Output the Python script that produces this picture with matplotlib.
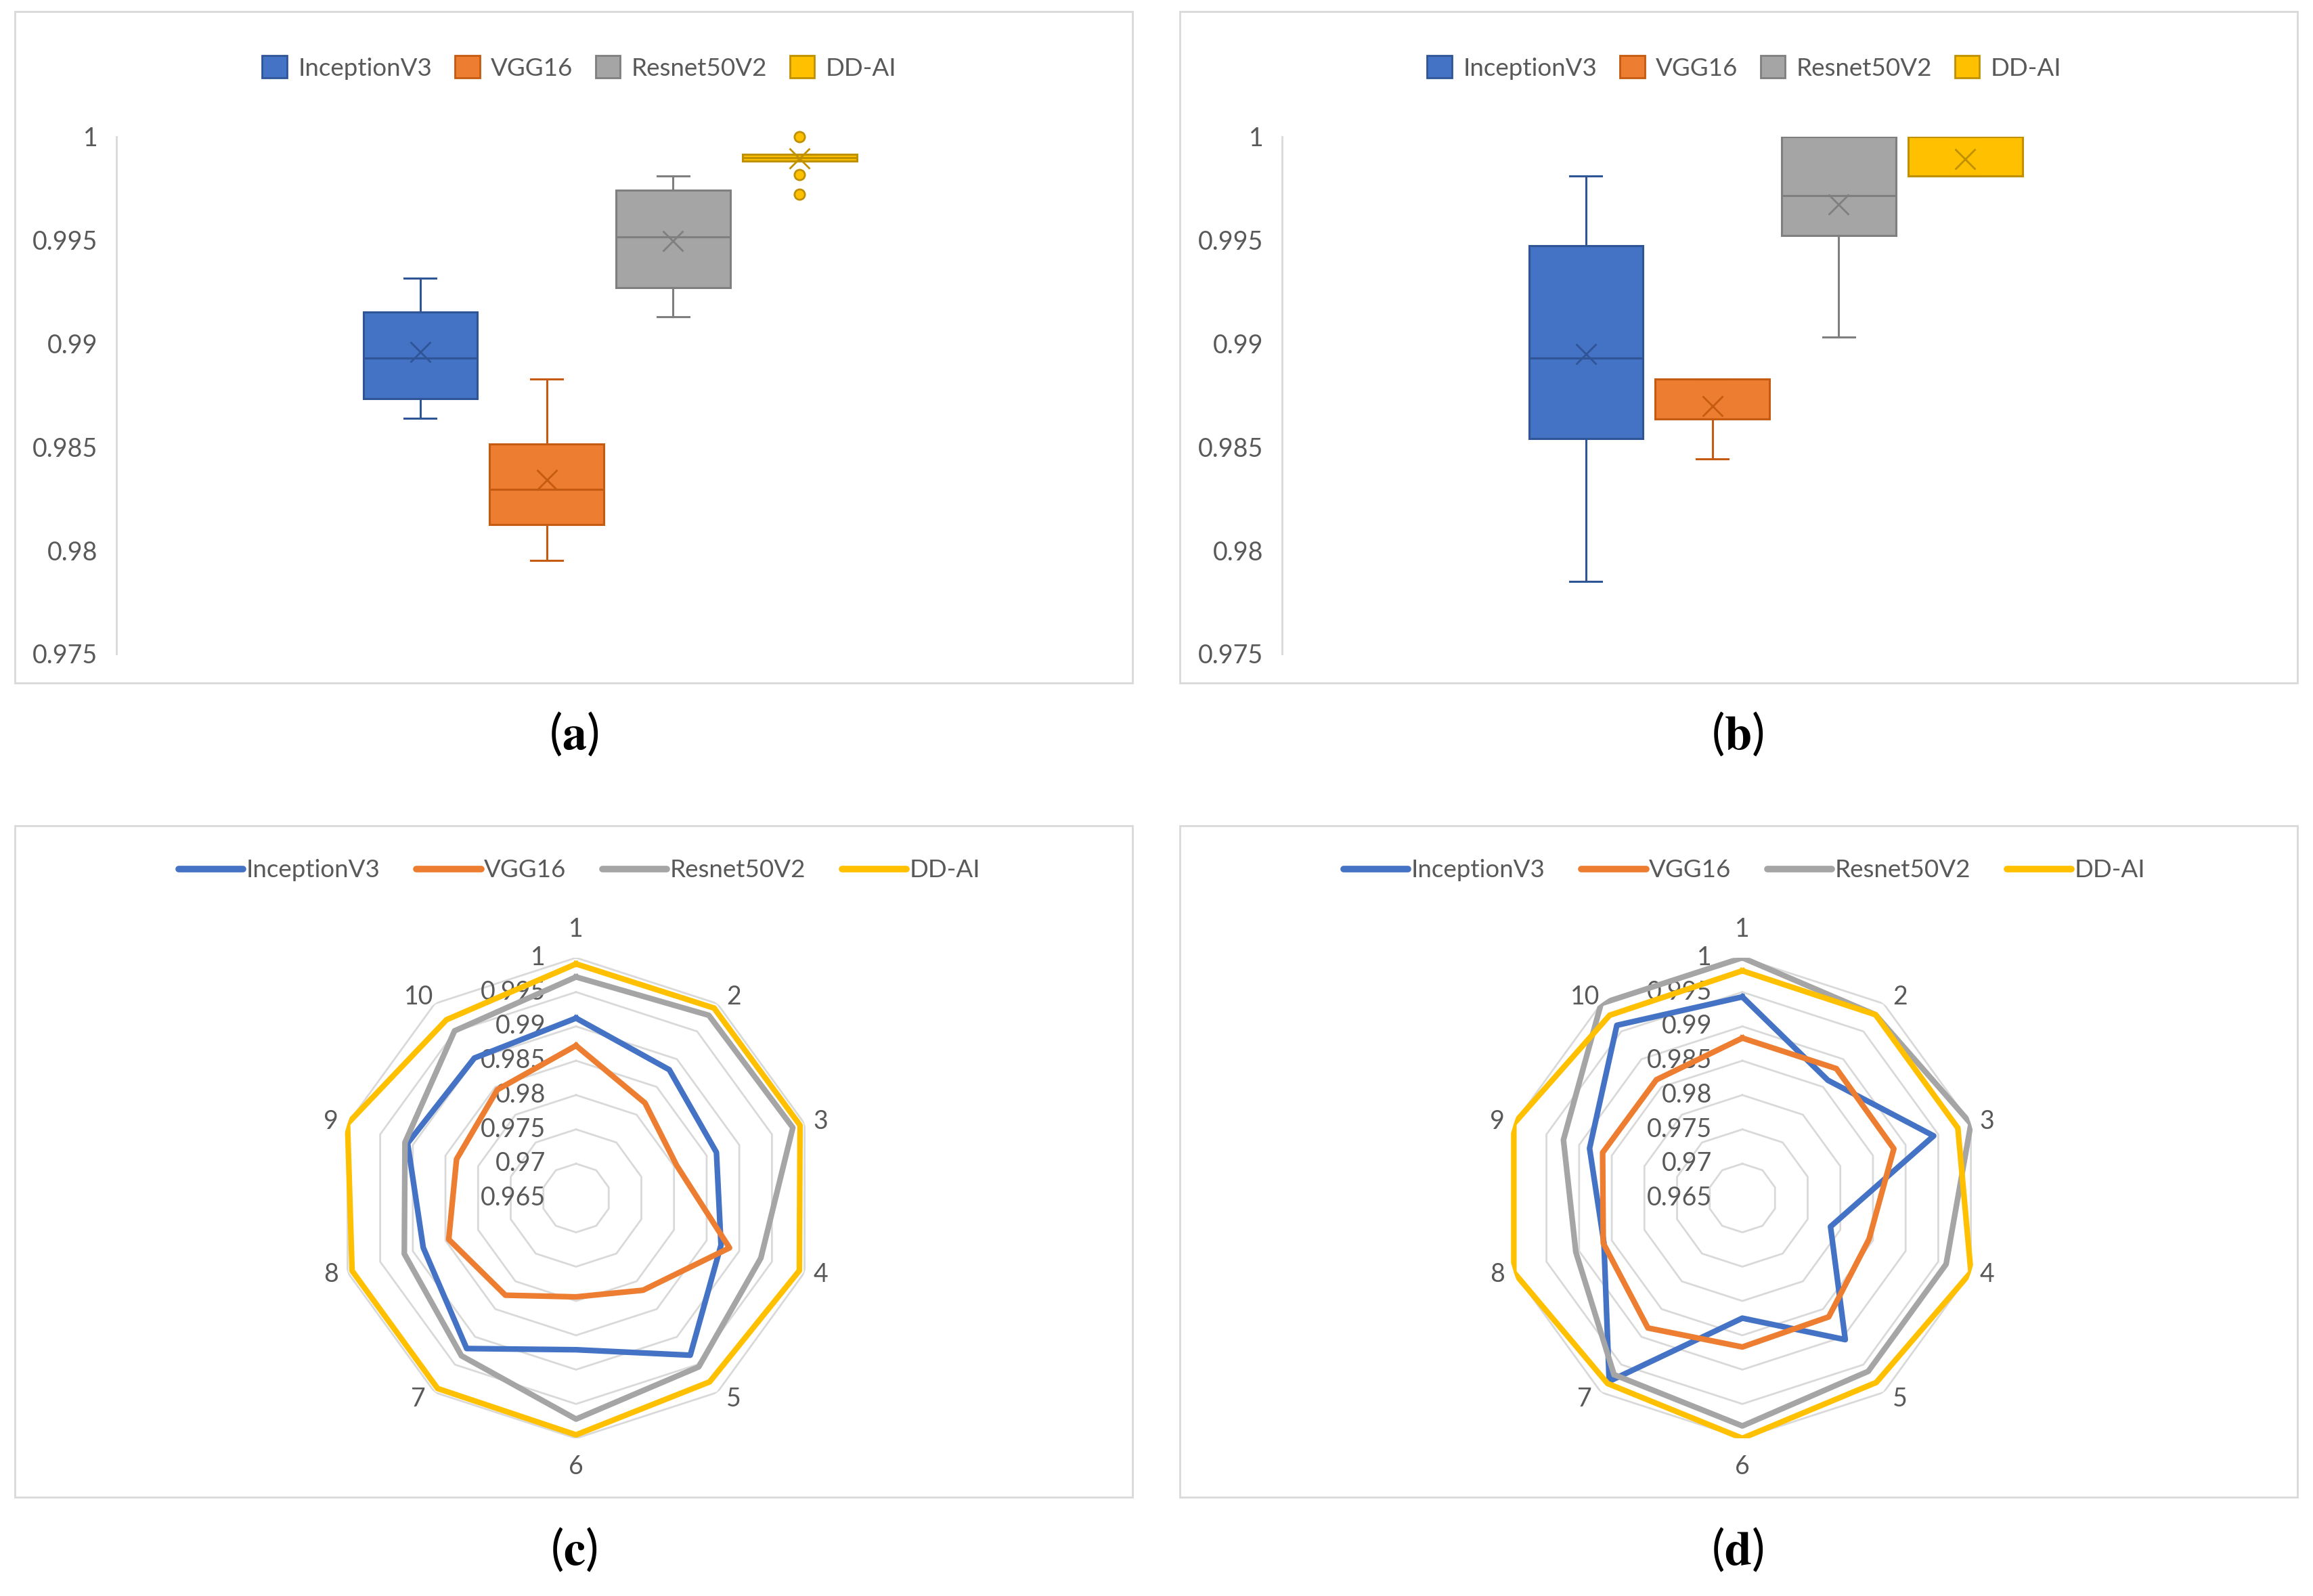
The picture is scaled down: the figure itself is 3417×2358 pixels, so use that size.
import matplotlib
matplotlib.use('Agg')
import matplotlib.pyplot as plt
from matplotlib.patches import Patch, Rectangle
from matplotlib.lines import Line2D
from matplotlib.transforms import offset_copy
import numpy as np

plt.rcParams['font.family'] = ['Lato', 'DejaVu Sans']
plt.rcParams['mathtext.fontset'] = 'stix'

models = ['InceptionV3', 'VGG16', 'Resnet50V2', 'DD-AI']
colors = ['#4472C4', '#ED7D31', '#A5A5A5', '#FFC000']
edges = ['#2F5597', '#C55A11', '#7F7F7F', '#BF9000']
txt = '#595959'
grid = '#d9d9d9'

# box plot summaries (a)
a_whislo = [0.98639, 0.97950, 0.99128, 0.99882]
a_q1 = [0.98735, 0.98124, 0.99271, 0.99882]
a_med = [0.98929, 0.98296, 0.99517, 0.99900]
a_q3 = [0.99153, 0.98515, 0.99742, 0.99915]
a_whishi = [0.99317, 0.98828, 0.99809, 0.99915]
a_mean = [0.98960, 0.98340, 0.99496, 0.99895]
a_fliers = [[], [], [], [1.0, 0.99817, 0.99722]]

# box plot summaries (b)
b_whislo = [0.97851, 0.98441, 0.99032, 0.99809]
b_q1 = [0.98540, 0.98637, 0.99523, 0.99809]
b_med = [0.98929, 0.98637, 0.99716, 0.99809]
b_q3 = [0.99473, 0.98830, 1.0, 1.0]
b_whishi = [0.99809, 0.98830, 1.0, 1.0]
b_mean = [0.98950, 0.98697, 0.99674, 0.99891]
b_fliers = [[], [], [], []]

box_ticks = [0.975, 0.98, 0.985, 0.99, 0.995, 1.0]
box_ticklabels = ['0.975', '0.98', '0.985', '0.99', '0.995', '1']

# radar (c)
folds = ['1', '2', '3', '4', '5', '6', '7', '8', '9', '10']
c_inception = [0.9912, 0.9881, 0.9865, 0.9872, 0.9933, 0.9871, 0.9921, 0.9884, 0.9908, 0.9902]
c_vgg = [0.9872, 0.9821, 0.9804, 0.9885, 0.9816, 0.9794, 0.9825, 0.9845, 0.9833, 0.9845]
c_resnet = [0.9972, 0.9979, 0.9982, 0.9933, 0.9954, 0.9972, 0.9934, 0.9913, 0.9912, 0.9951]
c_ddai = [0.9991, 0.9992, 0.9993, 0.9992, 0.9981, 0.9995, 0.9993, 0.9993, 1.0, 0.9971]

# radar (d)
d_inception = [0.9943, 0.9862, 0.9943, 0.9785, 0.9905, 0.9825, 0.9980, 0.9862, 0.9884, 0.9961]
d_vgg = [0.9883, 0.9883, 0.9882, 0.9844, 0.9864, 0.9867, 0.9884, 0.9863, 0.9864, 0.9863]
d_resnet = [1.0, 0.9980, 1.0, 0.9962, 0.9962, 0.9982, 0.9968, 0.9905, 0.9924, 1.0]
d_ddai = [0.9981, 0.9980, 0.9980, 1.0, 0.9982, 1.0, 0.9984, 1.0, 1.0, 0.9979]

ring_levels = [1.0, 0.995, 0.99, 0.985, 0.98, 0.975, 0.97, 0.965]
ring_labels = ['1', '0.995', '0.99', '0.985', '0.98', '0.975', '0.97', '0.965']

W, H = 3417, 2358
fig = plt.figure(figsize=(W / 100, H / 100), dpi=100)

# panel frames
for x0, y0 in [(22, 17), (1743, 17), (22, 1220), (1743, 1220)]:
    fig.add_artist(Rectangle((x0 / W, 1 - (y0 + 992) / H), 1651 / W, 992 / H,
                             transform=fig.transFigure, fill=False, edgecolor=grid, lw=2))


def box_panel(left, lo, q1, med, q3, hi, mean, fliers):
    ax = fig.add_axes([left / W, 1 - 966 / H, 1458 / W, 764 / H])
    for i in range(4):
        st = [dict(whislo=lo[i], q1=q1[i], med=med[i], q3=q3[i], whishi=hi[i],
                   mean=mean[i], fliers=fliers[i])]
        ec = edges[i]
        parts = ax.bxp(st, positions=[i + 1], widths=0.9, capwidths=0.25, patch_artist=True,
                       showmeans=True, manage_ticks=False,
                       boxprops=dict(facecolor=colors[i], edgecolor=ec, lw=2.2),
                       medianprops=dict(color=ec, lw=2.2),
                       whiskerprops=dict(color=ec, lw=2.2),
                       capprops=dict(color=ec, lw=2.2),
                       meanprops=dict(marker='x', markersize=21, markeredgecolor=ec,
                                      markeredgewidth=2),
                       flierprops=dict(marker='o', markersize=11, markerfacecolor=colors[i],
                                       markeredgecolor=ec, markeredgewidth=2))
        for f in parts['fliers']:
            f.set_clip_on(False)
    ax.set_xlim(-1.4, 6.4)
    ax.set_ylim(0.975, 1.0)
    ax.set_yticks(box_ticks)
    ax.set_yticklabels(box_ticklabels)
    ax.set_xticks([])
    ax.tick_params(axis='y', length=0, pad=20, labelsize=27, labelcolor=txt)
    for s in ['top', 'right', 'bottom']:
        ax.spines[s].set_visible(False)
    ax.spines['left'].set_color(grid)
    ax.spines['left'].set_linewidth(2)
    ax.patch.set_alpha(0)
    return ax


box_panel(172, a_whislo, a_q1, a_med, a_q3, a_whishi, a_mean, a_fliers)
box_panel(1894, b_whislo, b_q1, b_med, b_q3, b_whishi, b_mean, b_fliers)

theta = np.linspace(0, 2 * np.pi, len(folds), endpoint=False)
theta_closed = np.append(theta, theta[0])
R = 355


def radar_panel(cx, cy, series):
    ax = fig.add_axes([(cx - R) / W, 1 - (cy + R) / H, 2 * R / W, 2 * R / H], projection='polar')
    ax.set_theta_offset(np.pi / 2)
    ax.set_theta_direction(-1)
    ax.set_ylim(0.965, 1.0)
    ax.grid(False)
    ax.set_xticks([])
    ax.set_yticks([])
    ax.spines['polar'].set_visible(False)
    ax.patch.set_alpha(0)
    for lev in ring_levels[:-1]:
        ax.plot(theta_closed, [lev] * len(theta_closed), color=grid, lw=2, zorder=1)
    for vals, c in zip(series, colors):
        v = np.append(vals, vals[0])
        ax.plot(theta_closed, v, color=c, lw=6, solid_joinstyle='round', zorder=3)
    for lev, lab in zip(ring_levels, ring_labels):
        tr = offset_copy(ax.transData, fig=fig, x=-45, y=0, units='dots')
        ax.text(0, lev, lab, transform=tr, ha='right', va='center', fontsize=27,
                color=txt, zorder=2, clip_on=False)
    for t, lab in zip(theta, folds):
        s, c = np.sin(t), np.cos(t)
        if abs(s) < 0.1:
            dx, dy = 0, 42 * np.sign(c)
        else:
            dx, dy = 24 * np.sign(s), 12 * c
        tr = offset_copy(ax.transData, fig=fig, x=dx, y=dy, units='dots')
        ax.text(t, 1.0, lab, transform=tr, ha='center', va='center', fontsize=27,
                color=txt, clip_on=False)
    return ax


radar_panel(851, 1770, [c_inception, c_vgg, c_resnet, c_ddai])
radar_panel(2574, 1770, [d_inception, d_vgg, d_resnet, d_ddai])

# legends
patch_handles = [Patch(facecolor=c, edgecolor=e, lw=2) for c, e in zip(colors, edges)]
line_handles = [Line2D([], [], color=c, lw=7, solid_capstyle='round') for c in colors]
for xc in [856, 2577]:
    fig.legend(patch_handles, models, loc='center', bbox_to_anchor=(xc / W, 1 - 100 / H),
               ncol=4, frameon=False, fontsize=26.5, labelcolor=txt, handlelength=1.0,
               handleheight=1.0, handletextpad=0.45, columnspacing=0.9)
    fig.legend(line_handles, models, loc='center', bbox_to_anchor=(xc / W, 1 - 1286 / H),
               ncol=4, frameon=False, fontsize=26.5, labelcolor=txt, handlelength=2.6,
               handletextpad=0.12, columnspacing=1.45)

# panel labels
for lab, x, y in [('a', 848, 1085), ('b', 2567, 1085), ('c', 848, 2290), ('d', 2567, 2290)]:
    fig.text(x / W, 1 - y / H, '($\\mathbf{' + lab + '}$)', ha='center', va='center',
             fontsize=52, color='black')

fig.savefig('out.png', dpi=100, facecolor='white')
